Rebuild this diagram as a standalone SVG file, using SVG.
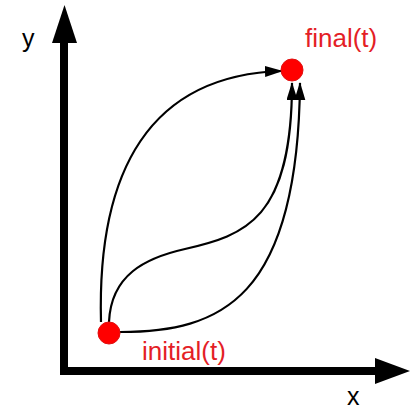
<svg xmlns="http://www.w3.org/2000/svg" width="418" height="409" viewBox="0 0 418 409">
<style>
.ax{stroke:#000;stroke-width:8;fill:none}
.axh{fill:#000}
.c{stroke:#000;stroke-width:2.2;fill:none}
.dot{fill:#ff0000;stroke:#e01010;stroke-width:1}
.lbl{font-family:"Liberation Sans",Arial,sans-serif;font-size:26px;fill:#e41e26}
.axl{font-family:"Liberation Sans",Arial,sans-serif;font-size:25px;fill:#000}
</style>
<defs>
<marker id="ah" markerUnits="userSpaceOnUse" markerWidth="18" markerHeight="12" refX="17" refY="5.5" orient="auto">
<path d="M0,0 L18,5.5 L0,11 z" fill="#000"/>
</marker>
</defs>
<g id="axes">
<line class="ax" x1="64" y1="40" x2="64" y2="375"/>
<polygon class="axh" points="52,43 64.5,5 77,43"/>
<line class="ax" x1="60" y1="371" x2="378" y2="371"/>
<polygon class="axh" points="375,358 410,371 375,384"/>
<text class="axl" x="22" y="47">y</text>
<text class="axl" x="347" y="405">x</text>
</g>
<g id="connectors">
<path class="c" d="M101,322 C97,170 150,75 282,71" marker-end="url(#ah)"/>
<path class="c" d="M109,322 C111,275 145,258 185,249 C245,235 292,220 292,83" marker-end="url(#ah)"/>
<path class="c" d="M120,332 C220,332 298,300 300,83" marker-end="url(#ah)"/>
</g>
<g id="initial">
<circle class="dot" cx="109" cy="333" r="11"/>
<text class="lbl" x="142" y="360">initial(t)</text>
</g>
<g id="final">
<circle class="dot" cx="292" cy="70" r="11"/>
<text class="lbl" x="305" y="47">final(t)</text>
</g>
</svg>
